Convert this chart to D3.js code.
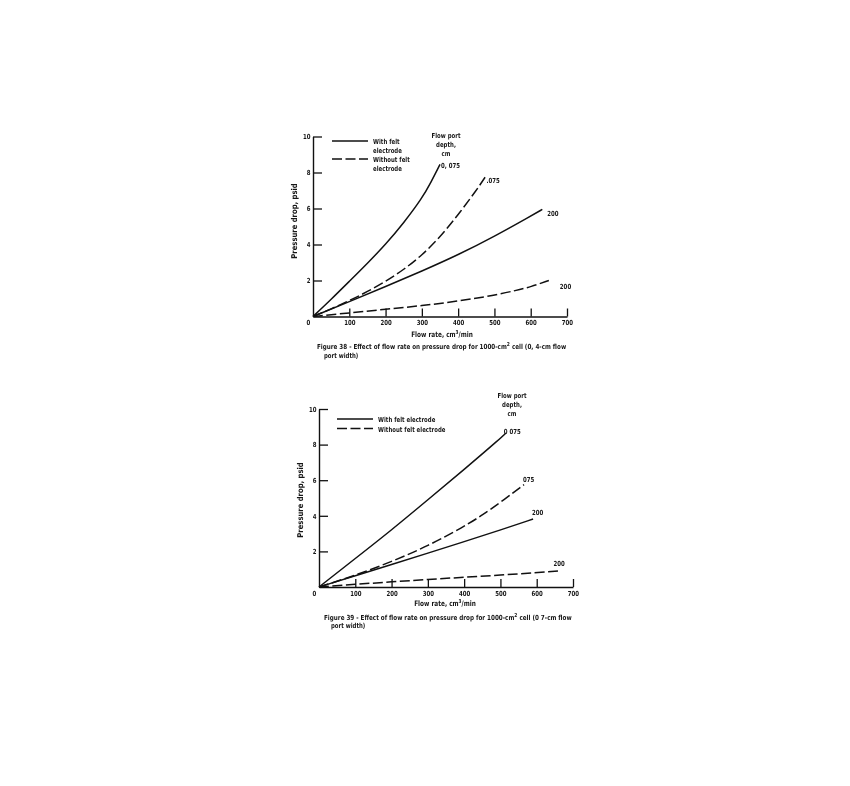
<!DOCTYPE html>
<html>
<head>
<meta charset="utf-8">
<script src="https://cdn.jsdelivr.net/npm/d3@7"></script>
<style>
  html, body { margin: 0; padding: 0; background: #fff; }
  svg { will-change: transform; }
  svg text { font-family: "Liberation Sans Narrow", "DejaVu Sans Condensed", "Roboto Condensed", sans-serif; fill: #161616; font-weight: bold; -webkit-font-smoothing: antialiased; }
</style>
</head>
<body>
<svg id="chart" width="850" height="786"></svg>
<script>
// ---------- shared tick values ----------
const xTickValues = [0, 100, 200, 300, 400, 500, 600, 700];
const yTickValues = [2, 4, 6, 8, 10];
const xTitle = "Flow rate, cm";
const yTitle = "Pressure drop, psid";
const headerLines = ["Flow port", "depth,", "cm"];

// ---------- Figure 38 (0.4-cm flow port width) ----------
const f38SolidA_x = [0, 50, 100, 150, 200, 250, 300, 325, 350];
const f38SolidA_y = [0, 0.95, 1.95, 2.95, 4.0, 5.2, 6.55, 7.45, 8.45];
const f38DashA_x  = [0, 50, 100, 150, 200, 250, 300, 350, 400, 450, 478];
const f38DashA_y  = [0, 0.42, 0.88, 1.38, 1.95, 2.6, 3.4, 4.4, 5.65, 7.0, 7.85];
const f38SolidB_x = [0, 100, 200, 300, 400, 500, 600, 632];
const f38SolidB_y = [0, 0.82, 1.66, 2.52, 3.42, 4.45, 5.58, 5.95];
const f38DashB_x  = [0, 100, 200, 300, 400, 500, 560, 600, 650];
const f38DashB_y  = [0, 0.2, 0.4, 0.6, 0.85, 1.18, 1.45, 1.65, 2.0];
const f38Labels   = ["0, 075", ".075", "200", "200"];
const f38Caption  = ["Figure 38  - Effect of flow rate on pressure drop for 1000-cm", " cell (0, 4-cm flow", "port width)"];

// ---------- Figure 39 (0.7-cm flow port width) ----------
const f39SolidA_x = [0, 100, 200, 300, 400, 500, 515];
const f39SolidA_y = [0, 1.6, 3.2, 4.9, 6.6, 8.35, 8.65];
const f39DashA_x  = [0, 100, 200, 300, 400, 445, 500, 565];
const f39DashA_y  = [0, 0.65, 1.42, 2.3, 3.4, 3.97, 4.75, 5.75];
const f39SolidB_x = [0, 100, 200, 300, 400, 500, 590];
const f39SolidB_y = [0, 0.63, 1.26, 1.9, 2.55, 3.2, 3.82];
const f39DashB_x  = [0, 100, 200, 300, 400, 500, 600, 660];
const f39DashB_y  = [0, 0.15, 0.29, 0.42, 0.55, 0.67, 0.8, 0.9];
const f39Labels   = ["0  075", "075", "200", "200"];
const f39Caption  = ["Figure 39  - Effect of flow rate on pressure drop for 1000-cm", " cell (0 7-cm flow", "port width)"];

const SX = 0.86; // horizontal condensing of all text
const svg = d3.select("#chart");
const zip = (xs, ys) => xs.map((x, i) => [x, ys[i]]);

// text placed at (x,y) and condensed horizontally around its anchor
function txt(parent, x, y, str, size, anchor) {
  const g = parent.append("g").attr("transform", `translate(${x},${y}) scale(${SX},1)`);
  return g.append("text").attr("font-size", size).attr("text-anchor", anchor || "start").text(str);
}

function panel(cfg) {
  const x = d3.scaleLinear().domain([0, 700]).range([cfg.x0, cfg.x1]);
  const y = d3.scaleLinear().domain([0, 10]).range([cfg.y0, cfg.y1]);
  const g = svg.append("g");

  // x axis
  const xa = g.append("g").attr("transform", `translate(0,${cfg.y0})`)
    .call(d3.axisBottom(x).tickValues(xTickValues).tickSizeInner(-8).tickSizeOuter(0).tickPadding(4).tickFormat(d3.format("d")));
  xa.select(".domain").attr("stroke", "#111").attr("stroke-width", 1.4);
  xa.selectAll(".tick line").attr("stroke", "#111").attr("stroke-width", 1.3)
    .filter(d => d === 0).remove();
  xa.selectAll(".tick text").attr("font-size", 7)
    .attr("transform", d => d === 0 ? `translate(-5,0) scale(${SX},1)` : `scale(${SX},1)`);

  // y axis
  const ya = g.append("g").attr("transform", `translate(${cfg.x0},0)`)
    .call(d3.axisLeft(y).tickValues(yTickValues).tickSizeInner(-9).tickSizeOuter(0).tickPadding(3).tickFormat(d3.format("d")));
  ya.select(".domain").attr("stroke", "#111").attr("stroke-width", 1.4);
  ya.selectAll(".tick line").attr("stroke", "#111").attr("stroke-width", 1.3);
  ya.selectAll(".tick text").attr("font-size", 7).attr("transform", `scale(${SX},1)`);

  // axis titles
  const xt = txt(g, cfg.xTitleX, cfg.xTitleY, null, 7.5, "middle");
  xt.append("tspan").text(xTitle);
  xt.append("tspan").attr("dy", -3).attr("font-size", 5.5).text("3");
  xt.append("tspan").attr("dy", 3).text("/min");

  g.append("text").attr("transform", `translate(${cfg.yTitleX},${cfg.yTitleY}) rotate(-90) scale(0.95,1)`)
    .attr("text-anchor", "middle").attr("font-size", 8).text(yTitle);

  // curves
  const line = d3.line().x(d => x(d[0])).y(d => y(d[1])).curve(d3.curveBasis);
  cfg.series.forEach((s, i) => {
    g.append("path").datum(zip(s.xs, s.ys))
      .attr("d", line).attr("fill", "none").attr("stroke", "#111")
      .attr("stroke-width", 1.5)
      .attr("stroke-dasharray", s.dashed ? "10,3.5" : null);
    const last = s.xs.length - 1;
    txt(g, x(s.xs[last]) + s.lab[0], y(s.ys[last]) + s.lab[1], cfg.labels[i], 7);
  });

  // legend
  const L = cfg.legend;
  [[L.y1, false, L.t1], [L.y2, true, L.t2]].forEach(([ly, dashed, lines]) => {
    g.append("line").attr("x1", L.x).attr("x2", L.x + L.len).attr("y1", ly).attr("y2", ly)
      .attr("stroke", "#111").attr("stroke-width", 1.4)
      .attr("stroke-dasharray", dashed ? "10,3.5" : null);
    lines.forEach((t, k) => txt(g, L.tx, ly + 3 + k * 8.8, t, 7));
  });

  // header "Flow port depth, cm"
  headerLines.forEach((t, k) => txt(g, cfg.hx, cfg.hy + k * 9, t, 7, "middle"));

  // caption, fitted to the reference width
  const cg = g.append("g").attr("transform", `translate(${cfg.capX},${cfg.capY})`);
  const c = cg.append("text").attr("font-size", 7);
  c.append("tspan").text(cfg.caption[0]);
  c.append("tspan").attr("dy", -3).attr("font-size", 5.5).text("2");
  c.append("tspan").attr("dy", 3).text(cfg.caption[1]);
  const w = c.node().getComputedTextLength();
  c.attr("transform", `scale(${cfg.capW / w},1)`);
  txt(g, cfg.capX + 7, cfg.capY + cfg.capGap, cfg.caption[2], 7);
}

panel({
  x0: 313, x1: 567, y0: 316.5, y1: 136.5,
  xTitleX: 442, xTitleY: 336.5, yTitleX: 297, yTitleY: 221,
  series: [
    { xs: f38SolidA_x, ys: f38SolidA_y, dashed: false, lab: [1, 3.5] },
    { xs: f38DashA_x,  ys: f38DashA_y,  dashed: true,  lab: [0, 8] },
    { xs: f38SolidB_x, ys: f38SolidB_y, dashed: false, lab: [5, 7] },
    { xs: f38DashB_x,  ys: f38DashB_y,  dashed: true,  lab: [11, 8] }
  ],
  labels: f38Labels,
  legend: { x: 332, len: 36, tx: 373, y1: 141, y2: 159, t1: ["With felt", "electrode"], t2: ["Without felt", "electrode"] },
  hx: 446, hy: 138,
  caption: f38Caption, capX: 317, capY: 349, capW: 250, capGap: 9
});

panel({
  x0: 319, x1: 573, y0: 587, y1: 409,
  xTitleX: 445, xTitleY: 606, yTitleX: 303, yTitleY: 500,
  series: [
    { xs: f39SolidA_x, ys: f39SolidA_y, dashed: false, lab: [-2, 1] },
    { xs: f39DashA_x,  ys: f39DashA_y,  dashed: true,  lab: [-1, -3] },
    { xs: f39SolidB_x, ys: f39SolidB_y, dashed: false, lab: [-1, -4] },
    { xs: f39DashB_x,  ys: f39DashB_y,  dashed: true,  lab: [-5, -5] }
  ],
  labels: f39Labels,
  legend: { x: 337, len: 36, tx: 378, y1: 419, y2: 428.5, t1: ["With felt electrode"], t2: ["Without felt electrode"] },
  hx: 512, hy: 398,
  caption: f39Caption, capX: 324, capY: 620, capW: 248, capGap: 7.5
});
</script>
</body>
</html>
